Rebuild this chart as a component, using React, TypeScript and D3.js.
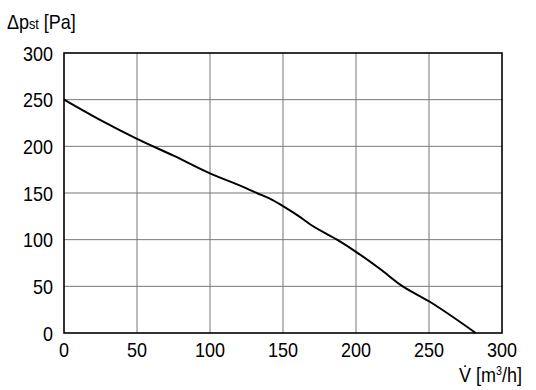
import * as d3 from "d3";
import type { ReactNode } from "react";

// curve
const flowValues = [0, 25, 50, 75, 100, 125, 132, 141, 150, 160, 169, 187, 200, 217, 231, 250, 282];
const pressureValues = [250, 228, 208, 190, 171, 155, 150, 144, 136, 126, 116, 100, 87, 68, 51, 34, 0];
const xTicks = [0, 50, 100, 150, 200, 250, 300];
const yTicks = [0, 50, 100, 150, 200, 250, 300];

const width = 536;
const height = 390;
const margin = { top: 53, right: 34, bottom: 57, left: 64 };
const font = "'Liberation Sans', Arial, sans-serif";

// narrow text: the original uses a condensed grotesque
const Narrow = ({
  x,
  y,
  anchor = "start",
  size = 20,
  children,
}: {
  x: number;
  y: number;
  anchor?: "start" | "middle" | "end";
  size?: number;
  children: ReactNode;
}) => (
  <text transform={`translate(${x},${y}) scale(0.9,1)`} textAnchor={anchor} fontSize={size}>
    {children}
  </text>
);

export default function App() {
  const x = d3.scaleLinear().domain([0, 300]).range([margin.left, width - margin.right]);
  const y = d3.scaleLinear().domain([0, 300]).range([height - margin.bottom, margin.top]);

  const points: [number, number][] = flowValues.map((f, i) => [f, pressureValues[i]]);
  const line = d3
    .line<[number, number]>()
    .x((d) => x(d[0]))
    .y((d) => y(d[1]))
    .curve(d3.curveMonotoneX);

  return (
    <svg
      width={width}
      height={height}
      style={{ position: "absolute", left: 0, top: 0, background: "#fff" }}
      fontFamily={font}
    >
      {/* grid */}
      {xTicks.slice(1, -1).map((t) => (
        <line key={"gx" + t} x1={x(t)} x2={x(t)} y1={y(0)} y2={y(300)} stroke="#777" strokeWidth={1} />
      ))}
      {yTicks.slice(1, -1).map((t) => (
        <line key={"gy" + t} x1={x(0)} x2={x(300)} y1={y(t)} y2={y(t)} stroke="#777" strokeWidth={1} />
      ))}
      <rect
        x={x(0)}
        y={y(300)}
        width={x(300) - x(0)}
        height={y(0) - y(300)}
        fill="none"
        stroke="#000"
        strokeWidth={1.6}
      />
      <path d={line(points) || ""} fill="none" stroke="#000" strokeWidth={2} />

      {/* tick labels */}
      {xTicks.map((t) => (
        <Narrow key={"tx" + t} x={x(t)} y={357} anchor="middle">
          {t}
        </Narrow>
      ))}
      {yTicks.map((t) => (
        <Narrow key={"ty" + t} x={53} y={y(t) + 7.5} anchor="end">
          {t}
        </Narrow>
      ))}

      {/* axis titles */}
      <Narrow x={7} y={29}>
        Δp<tspan fontSize={14}>st</tspan> [Pa]
      </Narrow>
      <Narrow x={522} y={382} anchor="end">
        V̇ [m<tspan fontSize={12} dy={-7}>3</tspan>
        <tspan dy={7}>/h]</tspan>
      </Narrow>
    </svg>
  );
}
